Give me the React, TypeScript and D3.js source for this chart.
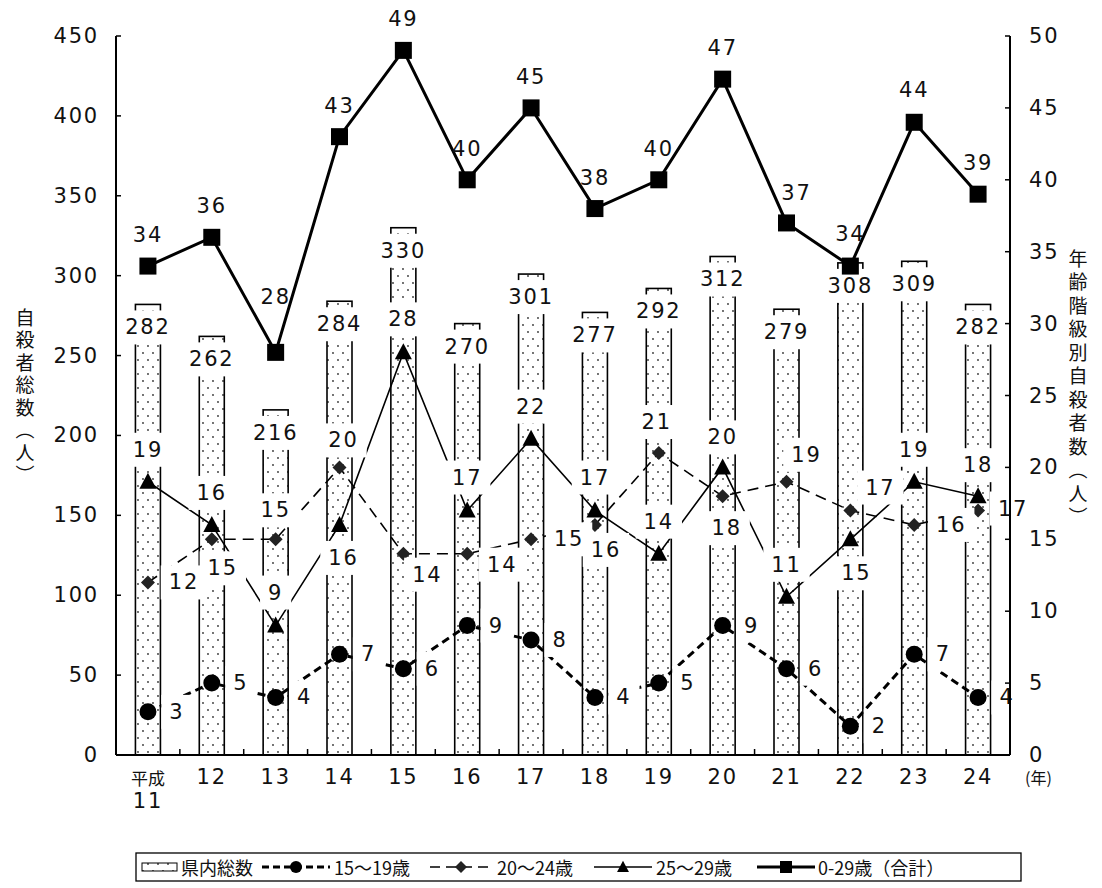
import React from 'react';
import * as d3 from 'd3';

// ---- data ----
const years = ['平成', '12', '13', '14', '15', '16', '17', '18', '19', '20', '21', '22', '23', '24'];
const totals = [282, 262, 216, 284, 330, 270, 301, 277, 292, 312, 279, 308, 309, 282];
const s1519 = [3, 5, 4, 7, 6, 9, 8, 4, 5, 9, 6, 2, 7, 4];
const s2024 = [12, 15, 15, 20, 14, 14, 15, 16, 21, 18, 19, 17, 16, 17];
const s2529 = [19, 16, 9, 16, 28, 17, 22, 17, 14, 20, 11, 15, 19, 18];
const s029 = [34, 36, 28, 43, 49, 40, 45, 38, 40, 47, 37, 34, 44, 39];
const leftTicks = [0, 50, 100, 150, 200, 250, 300, 350, 400, 450];
const rightTicks = [0, 5, 10, 15, 20, 25, 30, 35, 40, 45, 50];
const leftTitle = '自殺者総数（人）';
const rightTitle = '年齢階級別自殺者数（人）';
const legendNames = ['県内総数', '15～19歳', '20～24歳', '25～29歳', '0-29歳（合計）'];

// ---- label nudges (layout) ----
const off1519 = years.map(() => [29, 0]);
const off2024 = [[36, 0], [11, 29], [0, -29], [4, -27], [24, 21], [35, 11], [38, 0], [11, 25], [-2, -31], [4, 32], [20, -27], [30, -23], [37, 0], [35, -2]];
const off2529 = [[0, -32], [0, -32], [0, -33], [4, 33], [0, -33], [0, -33], [0, -32], [0, -33], [0, -32], [0, -30], [0, -32], [6, 34], [0, -32], [0, -31]];
const off029 = [[0, -31], [0, -31], [0, -55], [0, -31], [0, -31], [0, -31], [0, -31], [0, -31], [0, -31], [0, -31], [10, -30], [0, -32], [0, -32], [0, -31]];

const NUM = '"DejaVu Sans", sans-serif';
const CJK = '"Noto Sans CJK JP", sans-serif';

const L = 116, R = 1010, T = 36, B = 755;

export default function App() {
  const x = d3.scaleBand<number>().domain(d3.range(years.length)).range([L, R]).padding(0);
  const cx = (i: number) => (x(i) as number) + x.bandwidth() / 2;
  const yL = d3.scaleLinear().domain([0, 450]).range([B, T]);
  const yR = d3.scaleLinear().domain([0, 50]).range([B, T]);
  const barW = 25;
  const line = d3.line<number>().x((_, i) => cx(i)).y((d) => yR(d));

  const numStyle = { fontFamily: NUM, fontSize: 21, letterSpacing: 1.8, fill: '#111' } as const;
  const boxW = (s: string) => s.length * 15.2 + 16;

  const boxedLabel = (key: string, px: number, py: number, s: string) => (
    <g key={key}>
      <rect x={px - boxW(s) / 2} y={py - 17} width={boxW(s)} height={34} fill="#fff" />
      <text x={px} y={py} textAnchor="middle" dominantBaseline="central" style={numStyle}>{s}</text>
    </g>
  );

  const circle = (px: number, py: number, r = 8.5) => <circle cx={px} cy={py} r={r} fill="#000" />;
  const diamond = (px: number, py: number, h = 7) => <path d={`M${px},${py - h}L${px + h},${py}L${px},${py + h}L${px - h},${py}Z`} fill="#222" />;
  const triangle = (px: number, py: number, s = 1) => <path d={`M${px},${py - 9 * s}L${px + 8.5 * s},${py + 7 * s}L${px - 8.5 * s},${py + 7 * s}Z`} fill="#000" />;
  const square = (px: number, py: number, h = 8.5) => <rect x={px - h} y={py - h} width={2 * h} height={2 * h} fill="#000" />;

  const lgY = 867;
  const lgText = { fontFamily: CJK, fontSize: 18, fill: '#111' } as const;

  return (
    <svg width={1102} height={888} style={{ position: 'absolute', left: 0, top: 0, background: '#fff' }}>
      <defs>
        <pattern id="dots" width="10" height="14" patternUnits="userSpaceOnUse">
          <rect width="10" height="14" fill="#fff" />
          <circle cx="3" cy="3" r="0.9" fill="#333" />
          <circle cx="8" cy="10" r="0.9" fill="#333" />
        </pattern>
      </defs>
      <rect width={1102} height={888} fill="#fff" />

      {/* bars */}
      {totals.map((v, i) => (
        <rect key={'b' + i} x={cx(i) - barW / 2} y={yL(v)} width={barW} height={B - yL(v)} fill="url(#dots)" stroke="#000" strokeWidth={1.6} />
      ))}

      {/* 15-19 */}
      <path d={line(s1519) as string} fill="none" stroke="#000" strokeWidth={3} strokeDasharray="8,5" />
      {s1519.map((v, i) => <g key={'c' + i}>{circle(cx(i), yR(v))}</g>)}
      {/* 20-24 */}
      <path d={line(s2024) as string} fill="none" stroke="#000" strokeWidth={1.6} strokeDasharray="11,7" />
      {s2024.map((v, i) => <g key={'d' + i}>{diamond(cx(i), yR(v))}</g>)}
      {/* 25-29 */}
      <path d={line(s2529) as string} fill="none" stroke="#000" strokeWidth={1.6} />
      {s2529.map((v, i) => <g key={'t' + i}>{triangle(cx(i), yR(v))}</g>)}

      {/* boxed labels */}
      {totals.map((v, i) => boxedLabel('bl' + i, cx(i), yL(v) + 23, String(v)))}
      {s1519.map((v, i) => boxedLabel('l1' + i, cx(i) + off1519[i][0], yR(v) + off1519[i][1], String(v)))}
      {s2024.map((v, i) => boxedLabel('l2' + i, cx(i) + off2024[i][0], yR(v) + off2024[i][1], String(v)))}
      {s2529.map((v, i) => boxedLabel('l3' + i, cx(i) + off2529[i][0], yR(v) + off2529[i][1], String(v)))}

      {/* 0-29 */}
      <path d={line(s029) as string} fill="none" stroke="#000" strokeWidth={3} />
      {s029.map((v, i) => <g key={'s' + i}>{square(cx(i), yR(v))}</g>)}
      {s029.map((v, i) => (
        <text key={'l4' + i} x={cx(i) + off029[i][0]} y={yR(v) + off029[i][1]} textAnchor="middle" dominantBaseline="central" style={numStyle}>{v}</text>
      ))}

      {/* axes */}
      <line x1={L} x2={L} y1={T} y2={B} stroke="#000" strokeWidth={2} />
      <line x1={R} x2={R} y1={T} y2={B} stroke="#000" strokeWidth={2} />
      <line x1={L} x2={R} y1={B} y2={B} stroke="#000" strokeWidth={2} />
      {leftTicks.map((t) => (
        <g key={'lt' + t}>
          <line x1={L} x2={L + 5} y1={yL(t)} y2={yL(t)} stroke="#000" strokeWidth={1.5} />
          <text x={99} y={yL(t)} textAnchor="end" dominantBaseline="central" style={numStyle}>{t}</text>
        </g>
      ))}
      {rightTicks.map((t) => (
        <g key={'rt' + t}>
          <line x1={R - 5} x2={R} y1={yR(t)} y2={yR(t)} stroke="#000" strokeWidth={1.5} />
          <text x={1029} y={yR(t)} textAnchor="start" dominantBaseline="central" style={numStyle}>{t}</text>
        </g>
      ))}
      {d3.range(1, years.length).map((k) => (
        <line key={'xt' + k} x1={x(k) as number} x2={x(k) as number} y1={B} y2={B - 6} stroke="#000" strokeWidth={1.5} />
      ))}
      {years.map((y, i) => (
        i === 0 ? (
          <g key={'xl' + i}>
            <text x={cx(i)} y={777} textAnchor="middle" dominantBaseline="central" style={{ fontFamily: CJK, fontSize: 17, fill: '#111' }}>{y}</text>
            <text x={cx(i)} y={801} textAnchor="middle" dominantBaseline="central" style={numStyle}>11</text>
          </g>
        ) : (
          <text key={'xl' + i} x={cx(i)} y={777} textAnchor="middle" dominantBaseline="central" style={numStyle}>{y}</text>
        )
      ))}
      <text x={1025} y={777} dominantBaseline="central" style={{ fontFamily: CJK, fontSize: 16, fill: '#111' }}>(年)</text>

      {/* axis titles (vertical) */}
      <text x={25} y={308} style={{ fontFamily: CJK, fontSize: 19, fill: '#111', writingMode: 'vertical-rl', letterSpacing: 3.5 } as any}>{leftTitle}</text>
      <text x={1078} y={249} style={{ fontFamily: CJK, fontSize: 19, fill: '#111', writingMode: 'vertical-rl', letterSpacing: 4.5 } as any}>{rightTitle}</text>

      {/* legend */}
      <rect x={136} y={853} width={885} height={28} fill="#fff" stroke="#000" strokeWidth={1.3} />
      <rect x={142} y={863} width={35} height={8} fill="url(#dots)" stroke="#000" strokeWidth={1} />
      <text x={181} y={lgY} dominantBaseline="central" style={lgText}>{legendNames[0]}</text>

      <line x1={262} x2={330} y1={lgY} y2={lgY} stroke="#000" strokeWidth={3} strokeDasharray="7,4" />
      {circle(296, lgY, 6)}
      <text x={334} y={lgY} dominantBaseline="central" style={lgText}>{legendNames[1]}</text>

      <line x1={430} x2={493} y1={lgY} y2={lgY} stroke="#000" strokeWidth={1.6} strokeDasharray="10,6" />
      {diamond(461, lgY, 6)}
      <text x={497} y={lgY} dominantBaseline="central" style={lgText}>{legendNames[2]}</text>

      <line x1={594} x2={652} y1={lgY} y2={lgY} stroke="#000" strokeWidth={1.6} />
      {triangle(623, lgY, 0.7)}
      <text x={656} y={lgY} dominantBaseline="central" style={lgText}>{legendNames[3]}</text>

      <line x1={757} x2={815} y1={lgY} y2={lgY} stroke="#000" strokeWidth={3} />
      {square(786, lgY, 6)}
      <text x={818} y={lgY} dominantBaseline="central" style={lgText}>{legendNames[4]}</text>
    </svg>
  );
}
